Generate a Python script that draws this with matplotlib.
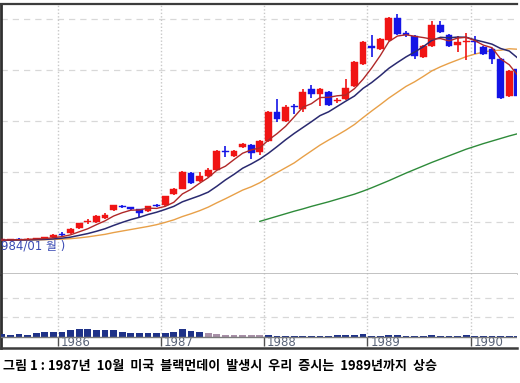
import numpy as np
import matplotlib
matplotlib.use('Agg')
import matplotlib.pyplot as plt

plt.rcParams['font.family'] = ['Noto Sans CJK KR', 'DejaVu Sans']

# monthly candles, 1985/06 ~ 1990/06 (KOSPI)
months = ['%d/%02d' % (1985 + (k + 5) // 12, (k + 5) % 12 + 1) for k in range(61)]

opens = [130, 132, 134, 133, 136, 137, 141, 155, 157, 176, 200, 200, 216, 247, 265, 259,
         251, 243, 268, 267, 310, 333, 396, 361, 384, 408, 482, 463, 498, 506, 478, 522,
         635, 600, 657, 647, 726, 706, 714, 677, 686, 737, 824, 894, 882, 918, 1004, 943,
         933, 851, 894, 977, 937, 898, 908, 912, 890, 882, 843, 698, 804]
highs = [134, 136, 137, 138, 140, 143, 153, 161, 176, 199, 212, 229, 235, 270, 270, 262,
         253, 266, 272, 305, 336, 403, 400, 400, 412, 486, 502, 486, 514, 510, 525, 640,
         686, 660, 667, 726, 741, 730, 718, 690, 765, 835, 914, 937, 926, 1008, 1020, 953,
         937, 898, 992, 992, 941, 933, 945, 933, 894, 886, 847, 800, 808]
lows = [128, 130, 131, 132, 134, 136, 139, 147, 155, 173, 192, 198, 214, 245, 258, 248,
        220, 240, 260, 264, 306, 330, 350, 357, 380, 405, 459, 459, 494, 451, 467, 518,
        596, 596, 628, 635, 690, 659, 659, 670, 682, 733, 820, 851, 878, 914, 937, 929,
        843, 847, 890, 945, 890, 871, 839, 863, 859, 824, 686, 694, 694]
closes = [132, 134, 133, 136, 138, 141, 151, 153, 173, 196, 204, 227, 231, 267, 262, 251,
          235, 263, 264, 302, 333, 400, 353, 384, 408, 482, 478, 482, 510, 471, 522, 635,
          608, 655, 653, 714, 706, 726, 663, 681, 729, 831, 910, 886, 922, 1004, 941, 939,
          855, 894, 977, 949, 894, 910, 912, 908, 863, 843, 690, 796, 698]

# moving average lines
ma_short = [130, 131, 132, 133, 135, 136, 140, 144, 151, 163, 175, 191, 206, 225, 238, 248,
            249, 256, 255, 263, 279, 312, 330, 354, 376, 405, 421, 447, 472, 485, 493, 524,
            549, 578, 615, 653, 667, 691, 692, 698, 701, 726, 763, 807, 856, 911, 933, 938,
            932, 927, 921, 923, 914, 925, 928, 915, 897, 887, 843, 820, 778]
ma_mid = [130, 130, 131, 131, 132, 133, 135, 138, 142, 149, 156, 165, 175, 188, 200, 211,
          220, 231, 240, 251, 263, 281, 293, 305, 319, 342, 367, 389, 413, 430, 449, 472,
          498, 525, 550, 573, 596, 620, 635, 656, 677, 697, 727, 750, 777, 806, 829, 851,
          870, 891, 916, 928, 926, 929, 928, 918, 910, 901, 884, 874, 846]
ma_long = [130, 130, 130, 131, 131, 132, 133, 134, 136, 139, 143, 148, 153, 160, 166, 172,
           178, 184, 191, 200, 210, 223, 234, 246, 260, 277, 293, 310, 327, 340, 356, 377,
           396, 415, 434, 458, 481, 504, 524, 543, 563, 585, 612, 638, 663, 689, 712, 735,
           753, 774, 796, 812, 826, 839, 852, 862, 870, 876, 877, 883, 881]
ma_longest = [np.nan] * 30 + [204, 214, 224, 234, 244, 253, 263, 272, 281, 291, 301, 311,
                              323, 336, 350, 364, 379, 394, 408, 422, 436, 449, 462, 475,
                              488, 499, 510, 520, 530, 540, 549]

volume = [3, 2, 3, 2, 4, 5, 5, 5, 7, 8, 8, 7, 7, 7, 5, 4, 4, 4, 4, 4, 5, 8, 6, 5,
          4, 3, 2, 2, 2, 2, 2, 2, 1.5, 1.5, 1.5, 1.5, 1.5, 1.5, 1.5, 2, 2, 2, 3, 1.5, 1.5,
          2.5, 2.5, 1.5, 1.5, 1.5, 2, 1.5, 1.5, 1.5, 2.5, 1.5, 1.5, 1.5, 1.5, 1.5, 1.5]

years = ['1986', '1987', '1988', '1989', '1990']
year_pos = [6.5, 18.5, 30.5, 42.5, 54.5]

RED = '#f01414'
BLUE = '#1414e6'

W, H = 520, 383
fig = plt.figure(figsize=(W / 100, H / 100), dpi=100)
ax = fig.add_axes([1 / W, (H - 274) / H, 516 / W, 270 / H])
axv = fig.add_axes([1 / W, (H - 348) / H, 516 / W, 74 / H])

x = np.arange(len(months))
o = np.array(opens); c = np.array(closes)
up = c >= o
col = np.where(up, RED, BLUE)

# wicks and bodies
ax.vlines(x, lows, highs, colors=col, linewidth=1.2, zorder=3)
body_h = np.abs(c - o)
body_h = np.where(body_h < 4, 4, body_h)
bot = np.minimum(o, c)
bot = np.where(np.abs(c - o) < 4, (o + c) / 2 - 2, bot)
ax.bar(x, body_h, bottom=bot, width=0.8, color=col, edgecolor=col, linewidth=0.3, zorder=4)

ax.plot(x, ma_long, color='#e8a048', lw=1.0, zorder=2)
ax.plot(x, ma_longest, color='#2e8b3a', lw=1.0, zorder=2)
ax.plot(x, ma_mid, color='#2a2a70', lw=1.1, zorder=5)
ax.plot(x, ma_short, color='#b02828', lw=1.0, zorder=5)

ax.set_xlim(-0.09, 59.9)
ax.set_ylim(-3, 1059)
for yv in [200, 400, 600, 800, 1000]:
    ax.axhline(yv, color='#d8d8d8', lw=0.9, dashes=(5, 4), zorder=1)
for xv in year_pos:
    ax.axvline(xv, color='#c8c8c8', lw=1.0, ls=(0, (1, 1.5)), zorder=1)
ax.set_xticks([]); ax.set_yticks([])
ax.spines['right'].set_visible(False)
ax.spines['top'].set_color('#3c3c3c'); ax.spines['top'].set_linewidth(1.6)
ax.spines['left'].set_color('#303030'); ax.spines['left'].set_linewidth(2.0)
ax.spines['bottom'].set_color('#b8b8b8'); ax.spines['bottom'].set_linewidth(1.2)
ax.text(-0.09, 106, '984/01 월 )', color='#3a4ab4', fontsize=8.5, va='center', ha='left',
        family=['DejaVu Sans', 'Noto Sans CJK KR'], zorder=6)

# volume panel
vcol = ['#1f3288'] * len(volume)
for k in range(24, 31):
    vcol[k] = '#a890a8'
axv.bar(x, volume, width=0.8, color=vcol, zorder=3)
axv.set_xlim(-0.09, 59.9)
axv.set_ylim(-11, 63)
for yv in [20, 39]:
    axv.axhline(yv, color='#d8d8d8', lw=0.9, dashes=(5, 4), zorder=1)
for xv in year_pos:
    axv.vlines(xv, 0, 63, color='#c8c8c8', lw=1.0, linestyles=(0, (1, 1.5)), zorder=1)
axv.axhline(0, color='#7a7a7a', lw=1.0, zorder=4)
for xv, yr in zip(year_pos, years):
    axv.vlines(xv, -9, 0, color='#505050', lw=1.0)
    axv.text(xv + 0.35, -5.5, yr, fontsize=8.5, color='#5a6478', va='center', ha='left',
             family=['DejaVu Sans'])
axv.set_xticks([]); axv.set_yticks([])
axv.spines['right'].set_visible(False)
axv.spines['top'].set_visible(False)
axv.spines['left'].set_color('#303030'); axv.spines['left'].set_linewidth(2.0)
axv.spines['bottom'].set_color('#3c3c3c'); axv.spines['bottom'].set_linewidth(1.8)

fig.text(3 / W, 1 - 366 / H, '그림 1 : 1987년  10월  미국  블랙먼데이  발생시  우리  증시는  1989년까지  상승',
         fontsize=9.4, fontweight='bold', va='center', ha='left')

fig.savefig('out.png', dpi=100)
